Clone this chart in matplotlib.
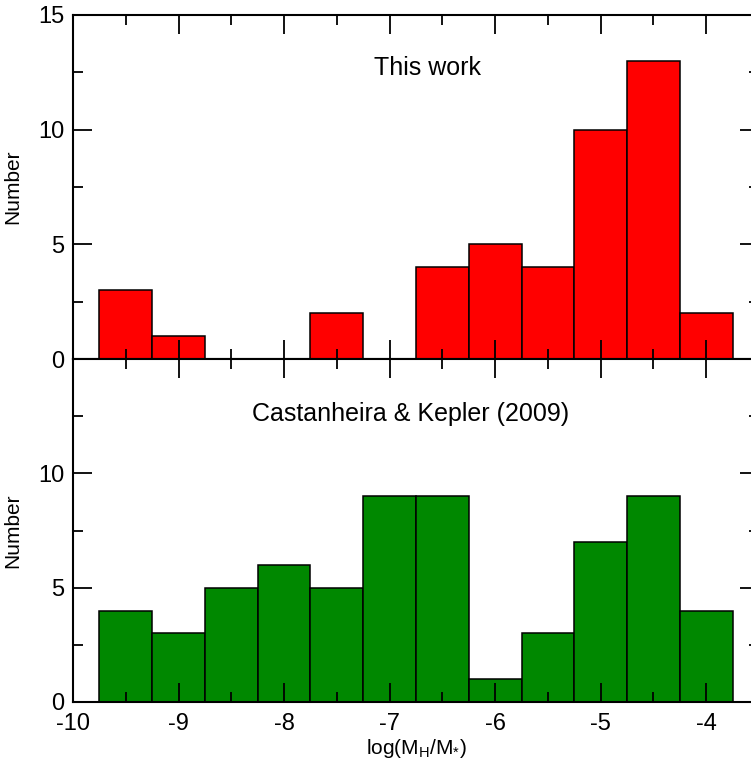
import numpy as np
import matplotlib.pyplot as plt
from matplotlib.ticker import MultipleLocator

plt.rcParams['font.family'] = ['Liberation Sans', 'DejaVu Sans']
plt.rcParams['mathtext.fontset'] = 'custom'
plt.rcParams['mathtext.rm'] = 'Liberation Sans'
plt.rcParams['mathtext.it'] = 'Liberation Sans'

# bin edges of log(M_H/M_*) and counts per bin
bin_edges = np.arange(-9.75, -3.74, 0.5)
this_work = [3, 1, 0, 0, 2, 0, 4, 5, 4, 10, 13, 2]
ck2009 = [4, 3, 5, 6, 5, 9, 9, 1, 3, 7, 9, 4]

fig = plt.figure(figsize=(7.51, 7.60), dpi=100)
top = fig.add_axes([73 / 751, 1 - 359 / 760, 686 / 751, 344 / 760])
bot = fig.add_axes([73 / 751, 1 - 702 / 760, 686 / 751, 343 / 760], sharex=top)

widths = np.diff(bin_edges)
top.bar(bin_edges[:-1], this_work, width=widths, align='edge',
        color='#ff0000', edgecolor='black', linewidth=1.1, zorder=1)
bot.bar(bin_edges[:-1], ck2009, width=widths, align='edge',
        color='#008800', edgecolor='black', linewidth=1.1, zorder=1)

for ax in (top, bot):
    ax.set_xlim(-10, -3.5)
    ax.set_ylim(0, 15)
    ax.xaxis.set_major_locator(MultipleLocator(1))
    ax.xaxis.set_minor_locator(MultipleLocator(0.5))
    ax.yaxis.set_major_locator(MultipleLocator(5))
    ax.yaxis.set_minor_locator(MultipleLocator(2.5))
    ax.tick_params(which='both', direction='in', top=True, right=True,
                   width=1.3, labelsize=17, pad=6)
    ax.tick_params(axis='x', which='both', pad=8)
    ax.tick_params(which='major', length=14)
    ax.tick_params(which='minor', length=7.5)
    for s in ax.spines.values():
        s.set_linewidth(1.5)
        s.set_zorder(3)
    ax.set_ylabel('Number', fontsize=15)
    ax.yaxis.set_label_coords(-0.074, 0.5)

top.tick_params(labelbottom=False)
top.set_yticks([0, 5, 10, 15])
bot.set_yticks([0, 5, 10])
bot.set_xticks([-10, -9, -8, -7, -6, -5, -4])
bot.set_xticklabels(['-10', '-9', '-8', '-7', '-6', '-5', '-4'])
bot.set_xlabel(r'log(M$_\mathregular{H}$/M$_\mathregular{*}$)', fontsize=15, labelpad=1)

top.text(-6.64, 12.7, 'This work', fontsize=18, ha='center', va='center')
bot.text(-6.8, 12.6, 'Castanheira & Kepler (2009)', fontsize=18, ha='center', va='center')

fig.savefig('out.png', dpi=100)
